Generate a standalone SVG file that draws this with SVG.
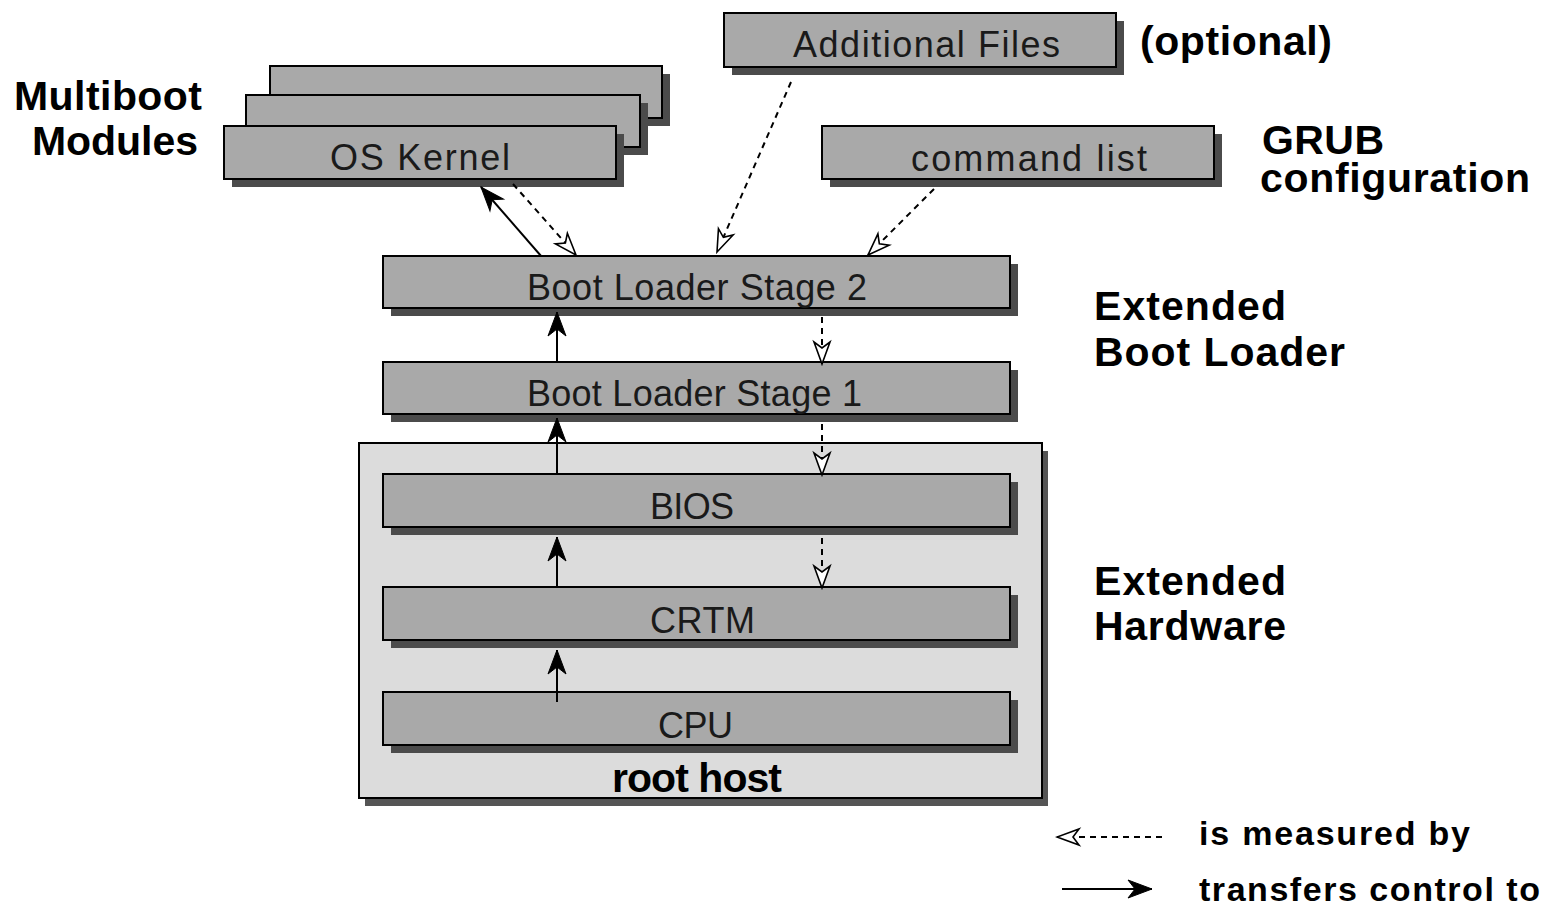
<svg xmlns="http://www.w3.org/2000/svg" width="1542" height="909" viewBox="0 0 1542 909">
  <style>
    .box { fill: #a9a9a9; stroke: #000; stroke-width: 2; }
    .shadow { fill: #4b4b4b; }
    .host { fill: #dcdcdc; stroke: #000; stroke-width: 2; }
    .host-shadow { fill: #555; }
    .lbl { font-family: "Liberation Sans", Arial, sans-serif; font-size: 36px; fill: #1a1a1a; }
    .bold { font-family: "Liberation Sans", Arial, sans-serif; font-weight: bold; font-size: 41px; fill: #000; }
    .legend { font-family: "Liberation Sans", Arial, sans-serif; font-weight: bold; font-size: 34px; fill: #000; }
    .ctl { stroke: #000; stroke-width: 2; fill: none; marker-end: url(#solidHead); }
    .meas { stroke: #000; stroke-width: 2; fill: none; stroke-dasharray: 6 5; marker-end: url(#openHead); }
  </style>
  <defs>
    <marker id="solidHead" viewBox="-26 -11 28 22" refX="0" refY="0" markerWidth="28" markerHeight="22" markerUnits="userSpaceOnUse" orient="auto">
      <path d="M0,0 L-24,-9 L-17,0 L-24,9 Z" fill="#000" stroke="#000" stroke-width="1"/>
    </marker>
    <marker id="openHead" viewBox="-26 -11 28 22" refX="0" refY="0" markerWidth="28" markerHeight="22" markerUnits="userSpaceOnUse" orient="auto">
      <path d="M0,0 L-22,-8 L-16,0 L-22,8 Z" fill="#fff" stroke="#000" stroke-width="1.6" stroke-linejoin="miter"/>
    </marker>
  </defs>

  <rect width="1542" height="909" fill="#fff"/>

  <!-- root host container -->
  <g id="n-roothost">
    <rect class="host-shadow" x="365" y="451" width="683" height="355"/>
    <rect class="host" x="359" y="443" width="683" height="355"/>
    <text class="bold" x="612" y="792" font-size="39" textLength="170" lengthAdjust="spacing">root host</text>
  </g>

  <!-- multiboot module stack -->
  <g id="n-module3">
    <rect class="shadow" x="278" y="74" width="392" height="52"/>
    <rect class="box" x="270" y="66" width="392" height="52"/>
  </g>
  <g id="n-module2">
    <rect class="shadow" x="254" y="103" width="394" height="52"/>
    <rect class="box" x="246" y="95" width="394" height="52"/>
  </g>
  <g id="n-kernel">
    <rect class="shadow" x="232" y="134" width="392" height="53"/>
    <rect class="box" x="224" y="126" width="392" height="53"/>
    <text class="lbl" x="330" y="170" textLength="180" lengthAdjust="spacing">OS Kernel</text>
  </g>

  <g id="n-additional">
    <rect class="shadow" x="732" y="21" width="392" height="54"/>
    <rect class="box" x="724" y="13" width="392" height="54"/>
    <text class="lbl" x="793" y="57" textLength="267" lengthAdjust="spacing">Additional Files</text>
  </g>

  <g id="n-cmdlist">
    <rect class="shadow" x="830" y="134" width="392" height="53"/>
    <rect class="box" x="822" y="126" width="392" height="53"/>
    <text class="lbl" x="911" y="171" textLength="236" lengthAdjust="spacing">command list</text>
  </g>

  <g id="n-stage2">
    <rect class="shadow" x="391" y="264" width="627" height="52"/>
    <rect class="box" x="383" y="256" width="627" height="52"/>
    <text class="lbl" x="527" y="300" textLength="340" lengthAdjust="spacing">Boot Loader Stage 2</text>
  </g>

  <g id="n-stage1">
    <rect class="shadow" x="391" y="370" width="627" height="52"/>
    <rect class="box" x="383" y="362" width="627" height="52"/>
    <text class="lbl" x="527" y="406" textLength="335" lengthAdjust="spacing">Boot Loader Stage 1</text>
  </g>

  <g id="n-bios">
    <rect class="shadow" x="391" y="482" width="627" height="53"/>
    <rect class="box" x="383" y="474" width="627" height="53"/>
    <text class="lbl" x="650" y="519" textLength="84" lengthAdjust="spacing">BIOS</text>
  </g>

  <g id="n-crtm">
    <rect class="shadow" x="391" y="595" width="627" height="53"/>
    <rect class="box" x="383" y="587" width="627" height="53"/>
    <text class="lbl" x="650" y="633" textLength="105" lengthAdjust="spacing">CRTM</text>
  </g>

  <g id="n-cpu">
    <rect class="shadow" x="391" y="700" width="627" height="53"/>
    <rect class="box" x="383" y="692" width="627" height="53"/>
    <text class="lbl" x="658" y="738" textLength="75" lengthAdjust="spacing">CPU</text>
  </g>

  <!-- side captions -->
  <g id="captions">
    <text class="bold" x="14" y="110" textLength="188" lengthAdjust="spacing">Multiboot</text>
    <text class="bold" x="32" y="155" textLength="166" lengthAdjust="spacing">Modules</text>
    <text class="bold" x="1140" y="55" font-size="40" textLength="192" lengthAdjust="spacing">(optional)</text>
    <text class="bold" x="1262" y="154" font-size="39" textLength="122" lengthAdjust="spacing">GRUB</text>
    <text class="bold" x="1260" y="192" font-size="40" textLength="270" lengthAdjust="spacing">configuration</text>
    <text class="bold" x="1094" y="320" textLength="192" lengthAdjust="spacing">Extended</text>
    <text class="bold" x="1094" y="366" textLength="251" lengthAdjust="spacing">Boot Loader</text>
    <text class="bold" x="1094" y="595" textLength="192" lengthAdjust="spacing">Extended</text>
    <text class="bold" x="1094" y="640" textLength="192" lengthAdjust="spacing">Hardware</text>
  </g>

  <!-- connectors: solid = transfers control, dashed = measured by -->
  <g id="connectors">
    <line class="ctl" x1="557" y1="702" x2="557" y2="650"/>
    <line class="ctl" x1="557" y1="587" x2="557" y2="537"/>
    <line class="ctl" x1="557" y1="474" x2="557" y2="418"/>
    <line class="ctl" x1="557" y1="362" x2="557" y2="312"/>
    <line class="ctl" x1="541" y1="256" x2="481" y2="187"/>

    <line class="meas" x1="822" y1="317" x2="822" y2="364"/>
    <line class="meas" x1="822" y1="424" x2="822" y2="475"/>
    <line class="meas" x1="822" y1="538" x2="822" y2="588"/>
    <line class="meas" x1="513" y1="184" x2="576" y2="255"/>
    <line class="meas" x1="791" y1="82" x2="717" y2="252"/>
    <line class="meas" x1="934" y1="189" x2="868" y2="255"/>
  </g>

  <!-- legend -->
  <g id="legend">
    <line class="meas" x1="1162" y1="837" x2="1057" y2="837" stroke-width="1.6"/>
    <text class="legend" x="1199" y="845" textLength="271" lengthAdjust="spacing">is measured by</text>
    <line class="ctl" x1="1062" y1="889" x2="1152" y2="889"/>
    <text class="legend" x="1199" y="901" textLength="341" lengthAdjust="spacing">transfers control to</text>
  </g>
</svg>
